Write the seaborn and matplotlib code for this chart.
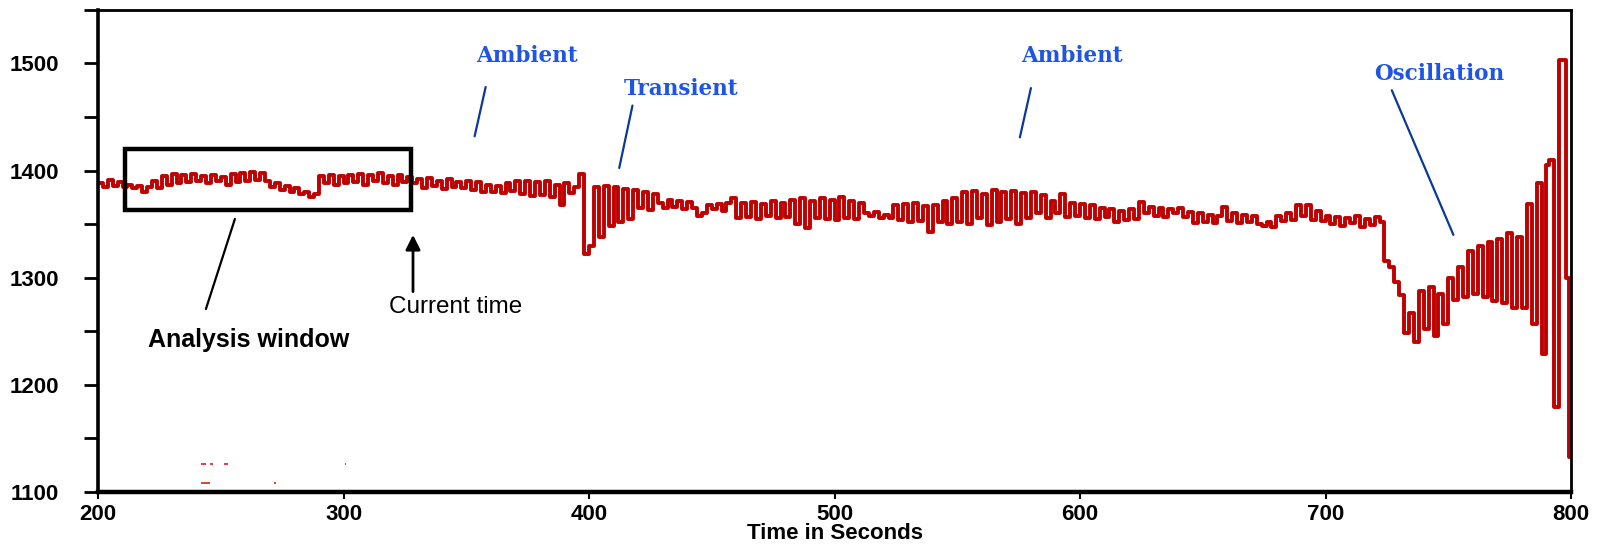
import numpy as np
import pandas as pd
import matplotlib
matplotlib.use("Agg")
import matplotlib.pyplot as plt
from matplotlib.patches import Rectangle
from matplotlib.ticker import MultipleLocator
import seaborn as sns

# Measured signal, sampled every 2 s from 200 s to 778 s
sig_200_298 = [1388, 1385, 1391, 1386, 1389, 1385, 1387,
               1384, 1386, 1380, 1385,
               1390, 1384, 1395, 1387, 1397, 1388,
               1396, 1389, 1397, 1390, 1395, 1388, 1396, 1390, 1394, 1387,
               1397, 1389, 1398, 1390, 1399, 1391, 1398,
               1390, 1385, 1388, 1382, 1386, 1380, 1384, 1378,
               1380, 1375, 1378, 1395,
               1388, 1396, 1387, 1395]
sig_300_398 = [1388, 1396, 1389, 1397, 1387, 1396, 1390, 1398, 1388, 1395,
               1387, 1396, 1389, 1394, 1388,
               1392, 1384, 1393, 1386, 1390, 1383, 1392, 1385, 1389, 1384,
               1390, 1382, 1389, 1380, 1387, 1380, 1386, 1379, 1388, 1381, 1390,
               1378, 1390, 1376, 1389, 1377, 1390, 1375, 1387, 1368,
               1388, 1379, 1385, 1397, 1322]
sig_400_498 = [1330, 1385, 1338, 1386, 1348, 1385, 1352, 1383, 1355, 1382,
               1365, 1380, 1363, 1378,
               1370, 1365, 1373, 1366, 1372, 1364, 1371, 1365,
               1358, 1360, 1368,
               1364, 1369, 1362, 1370, 1374,
               1356, 1370, 1357, 1371, 1355, 1369, 1358, 1372, 1356, 1370,
               1357, 1373, 1350, 1374, 1346, 1372,
               1356, 1374, 1355, 1373]
sig_500_598 = [1354, 1375, 1356, 1372, 1355, 1370, 1360,
               1358, 1361, 1356, 1359, 1356,
               1368, 1354, 1369, 1352, 1370, 1353, 1367, 1343, 1368,
               1352, 1372, 1350, 1374,
               1352, 1380, 1350, 1381, 1356, 1378, 1349, 1382, 1352, 1380,
               1355, 1381, 1350, 1379, 1356, 1380,
               1360, 1377, 1356, 1372, 1360, 1378, 1357, 1370, 1358]
sig_600_698 = [1369, 1356, 1368, 1355, 1365, 1357, 1364,
               1352, 1362, 1354, 1364, 1355, 1371,
               1360, 1366, 1358, 1365, 1357, 1364, 1360, 1365, 1357,
               1361, 1351, 1360, 1352, 1359, 1351, 1358,
               1366, 1353, 1360, 1351, 1359, 1352, 1358,
               1350, 1348, 1352, 1347,
               1358, 1353, 1360, 1354, 1368, 1358, 1368, 1354, 1362, 1353]
sig_700_778 = [1358, 1350, 1357, 1348, 1356, 1351, 1358, 1347, 1355, 1349, 1357, 1352,
               1316, 1310, 1296, 1284,
               1248, 1267, 1240,
               1288, 1252, 1291, 1246, 1285, 1257, 1300,
               1279, 1310, 1282,
               1325, 1285, 1330, 1282, 1333, 1278, 1336,
               1276, 1342, 1272, 1338]
# Final growing swing, sampled every 1 s from 780 s to 800 s
sig_780_800 = [1272, 1272, 1369, 1369, 1257, 1257, 1388, 1388, 1229, 1229,
               1405, 1410, 1410, 1179, 1179, 1503, 1503, 1503, 1300, 1133, 1133]

# Stray marks near the bottom of the plot area: (start s, end s, level)
stray_start = [242.0, 245.7, 251.5, 300.4, 242.0, 271.8]
stray_end = [244.0, 247.0, 253.0, 301.0, 245.6, 272.4]
stray_level = [1126, 1126, 1126, 1126, 1108, 1108]

coarse = sig_200_298 + sig_300_398 + sig_400_498 + sig_500_598 + sig_600_698 + sig_700_778
time_s = np.concatenate([np.arange(200, 780, 2), np.arange(780, 801, 1)])
values = np.array(coarse + sig_780_800, dtype=float)
df = pd.DataFrame({"time": time_s, "value": values})

sns.set_theme(style="white")
plt.rcParams["font.family"] = ["Liberation Sans", "DejaVu Sans"]

fig = plt.figure(figsize=(16.07, 5.5), dpi=100)
ax = fig.add_axes([0.061, 0.1055, 0.9166, 0.8765])

red = "#c00000"
sns.lineplot(data=df, x="time", y="value", ax=ax, color=red, linewidth=2.8,
             drawstyle="steps-post", estimator=None, sort=False, legend=False)
ax.hlines(stray_level, stray_start, stray_end, color="#d42020", linewidth=1.2)

ax.set_xlim(200, 800)
ax.set_ylim(1100, 1550)
ax.xaxis.set_major_locator(MultipleLocator(100))
ax.yaxis.set_major_locator(MultipleLocator(100))
ax.yaxis.set_minor_locator(MultipleLocator(50))
ax.set_yticks([1100, 1200, 1300, 1400, 1500])

for side in ["top", "right"]:
    ax.spines[side].set_linewidth(2.0)
    ax.spines[side].set_color("black")
ax.spines["left"].set_linewidth(2.6)
ax.spines["left"].set_color("black")
ax.spines["bottom"].set_linewidth(3.2)
ax.spines["bottom"].set_color("black")

ax.tick_params(axis="y", which="both", direction="out", length=10, width=2,
               color="black", pad=18, left=True)
ax.tick_params(axis="x", which="major", direction="out", length=5, width=1.5,
               color="black", pad=4, bottom=True)
for lab in ax.get_yticklabels() + ax.get_xticklabels():
    lab.set_fontsize(16)
    lab.set_fontweight("bold")
    lab.set_color("black")

ax.set_xlabel("Time in Seconds", fontsize=16, fontweight="bold", labelpad=-2,
              color="black")
ax.set_ylabel("")

# Analysis window and current-time marker
ax.add_patch(Rectangle((210.9, 1363.1), 327.3 - 210.9, 1420.5 - 1363.1,
                       fill=False, edgecolor="black", linewidth=3.2, zorder=3))
ax.annotate("", xy=(256.1, 1357.3), xytext=(243.6, 1268.3),
            arrowprops=dict(arrowstyle="-", color="black", lw=1.6))
ax.text(261.5, 1241.6, "Analysis window", fontsize=18, fontweight="bold",
        ha="center", va="center", color="black")
ax.annotate("", xy=(328.3, 1340), xytext=(328.3, 1287),
            arrowprops=dict(arrowstyle="-|>", color="black", lw=2,
                            mutation_scale=22, shrinkA=0, shrinkB=0))
ax.text(345.8, 1273, "Current time", fontsize=17.5, ha="center", va="center",
        color="black")

# Event labels
blue_text = "#1f55e6"
blue_line = "#0a3a96"
events = [
    ("Ambient", (374.7, 1506.6), (357.9, 1478), (353.4, 1432)),
    ("Transient", (437.3, 1476.0), (417.7, 1460.7), (412.3, 1402.4)),
    ("Ambient", (596.7, 1506.6), (580.0, 1477), (575.5, 1431)),
    ("Oscillation", (746.2, 1490.4), (727.0, 1475), (752.1, 1340)),
]
for label, txt_xy, p0, p1 in events:
    ax.text(*txt_xy, label, fontsize=15.5, fontweight="bold", family="DejaVu Serif",
            ha="center", va="center", color=blue_text)
    ax.annotate("", xy=p1, xytext=p0,
                arrowprops=dict(arrowstyle="-", color=blue_line, lw=1.6,
                                shrinkA=0, shrinkB=0))

fig.savefig("out.png", dpi=100)
